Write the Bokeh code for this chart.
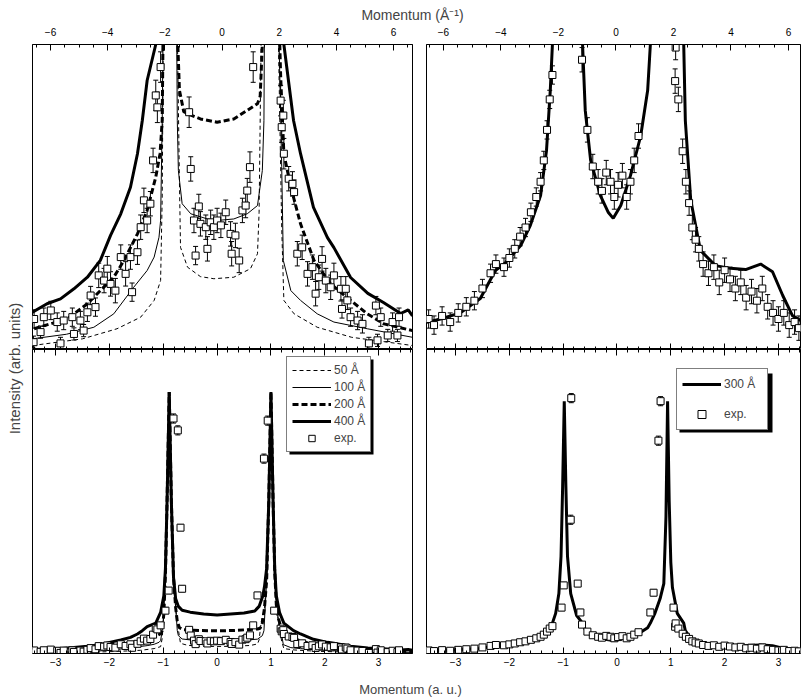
import numpy as np
from bokeh.plotting import figure
from bokeh.models import (Range1d, LinearAxis, SingleIntervalTicker, FixedTicker, Label,
                          Legend, LegendItem, BoxAnnotation)
from bokeh.layouts import row, column
from bokeh.embed import file_html
from bokeh.resources import INLINE

FONT = "Liberation Sans"

# ---------------- data (x in a.u., intensity in arb. units) ----------------
# left panels: calculated curves for several domain sizes
c50_x = [-3.43, -2.5, -1.86, -1.42, -1.17, -1.05, -1.02, -0.99, -0.96, -0.93, -0.89, -0.85, -0.81,
         -0.77, -0.74, -0.70, -0.68, -0.55, -0.31, -0.06, 0.31, 0.62, 0.75, 0.78, 0.82, 0.88,
         0.92, 0.96, 1.00, 1.04, 1.07, 1.10, 1.14, 1.20, 1.24, 1.43, 1.86, 2.5, 3.63]
c50_y = [0.013, 0.035, 0.068, 0.106, 0.161, 0.226, 0.5, 1.3, 2.6, 5.0, 8.6, 5.0, 2.5,
         1.5, 1.05, 0.55, 0.335, 0.27, 0.239, 0.232, 0.237, 0.265, 0.314, 0.45, 1.05, 1.5,
         2.4, 5.0, 8.6, 5.0, 2.7, 1.6, 1.0, 0.4, 0.161, 0.117, 0.073, 0.04, 0.013]

c100_x = [-3.43, -2.80, -2.29, -1.92, -1.55, -1.30, -1.17, -1.08, -1.05, -1.02, -0.99, -0.96, -0.93,
          -0.89, -0.85, -0.81, -0.77, -0.74, -0.72, -0.65, -0.49, -0.18, 0.0, 0.31, 0.56, 0.75,
          0.84, 0.87, 0.92, 0.96, 1.00, 1.04, 1.07, 1.10, 1.14, 1.20, 1.23, 1.37, 1.55, 1.86,
          2.17, 2.79, 3.63]
c100_y = [0.035, 0.05, 0.073, 0.117, 0.204, 0.259, 0.303, 0.368, 0.423, 0.75, 1.3, 2.6, 5.0,
          8.6, 5.0, 2.5, 1.5, 0.751, 0.587, 0.478, 0.445, 0.428, 0.423, 0.428, 0.445, 0.472,
          0.587, 0.751, 2.4, 5.0, 8.6, 5.0, 2.7, 1.6, 1.1, 0.6, 0.292, 0.193, 0.161, 0.117,
          0.090, 0.068, 0.04]

c200_x = [-3.40, -2.78, -2.41, -2.17, -1.92, -1.73, -1.48, -1.30, -1.14, -1.06, -1.02, -0.99, -0.96,
          -0.93, -0.89, -0.85, -0.81, -0.77, -0.74, -0.70, -0.62, -0.55, -0.31, 0.0, 0.31, 0.56,
          0.75, 0.80, 0.84, 0.88, 0.92, 0.96, 1.00, 1.04, 1.07, 1.10, 1.14, 1.18, 1.24, 1.37,
          1.55, 1.80, 2.11, 2.48, 2.79, 3.10, 3.63]
c200_y = [0.068, 0.101, 0.150, 0.193, 0.237, 0.292, 0.379, 0.456, 0.565, 0.642, 0.751, 1.3, 2.6,
          5.0, 8.6, 5.0, 2.5, 1.5, 1.05, 0.85, 0.78, 0.773, 0.756, 0.745, 0.756, 0.784,
          0.806, 0.83, 1.0, 1.5, 2.4, 5.0, 8.6, 5.0, 2.7, 1.6, 1.15, 0.9, 0.642, 0.532,
          0.412, 0.292, 0.215, 0.161, 0.117, 0.084, 0.062]

c400_x = [-3.43, -3.16, -2.91, -2.66, -2.41, -2.17, -1.98, -1.79, -1.61, -1.48, -1.39, -1.30, -1.14,
          -1.05, -0.99, -0.96, -0.93, -0.89, -0.85, -0.81, -0.77, -0.72, -0.65, -0.50, -0.25, 0.0,
          0.25, 0.50, 0.70, 0.78, 0.85, 0.88, 0.92, 0.96, 1.00, 1.04, 1.07, 1.10, 1.16, 1.24,
          1.42, 1.55, 1.79, 2.05, 2.17, 2.48, 2.80, 3.09, 3.41, 3.55, 3.63]
c400_y = [0.122, 0.150, 0.166, 0.199, 0.237, 0.292, 0.374, 0.445, 0.532, 0.642, 0.751, 0.882, 1.00,
          1.35, 1.9, 2.8, 5.0, 8.6, 5.0, 2.5, 1.8, 1.55, 1.42, 1.36, 1.30, 1.27,
          1.30, 1.33, 1.40, 1.55, 1.9, 2.2, 2.8, 5.0, 8.6, 5.0, 2.8, 1.9, 1.35, 1.00,
          0.751, 0.642, 0.466, 0.367, 0.334, 0.236, 0.184, 0.154, 0.118, 0.13, 0.11]

# left panels: experiment
expL_x = [-3.41, -3.40, -3.28, -3.22, -3.09, -2.97, -2.91, -2.85, -2.69, -2.66, -2.54, -2.48, -2.41,
          -2.35, -2.26, -2.20, -2.10, -2.04, -1.98, -1.89, -1.79, -1.70, -1.61, -1.58, -1.48, -1.42,
          -1.36, -1.30, -1.24, -1.19, -1.14, -1.11, -1.05, -0.96, -0.90, -0.81, -0.73, -0.68, -0.65,
          -0.52, -0.49, -0.43, -0.40, -0.34, -0.31, -0.21, -0.18, -0.12, -0.06, 0.0, 0.07, 0.16,
          0.25, 0.27, 0.34, 0.41, 0.47, 0.53, 0.56, 0.61, 0.67, 0.75, 0.87, 0.94, 1.06,
          1.18, 1.20, 1.23, 1.24, 1.33, 1.40, 1.43, 1.49, 1.58, 1.68, 1.77, 1.83, 1.89, 1.95,
          2.02, 2.11, 2.17, 2.30, 2.32, 2.39, 2.42, 2.48, 2.61, 2.70, 2.82, 2.95, 2.98, 3.04,
          3.17, 3.26, 3.35, 3.38]
expL_y = [0.024, 0.10, 0.057, 0.106, 0.128, 0.09, 0.02, 0.095, 0.106, 0.051, 0.095, 0.062, 0.122,
          0.177, 0.139, 0.243, 0.226, 0.265, 0.215, 0.193, 0.303, 0.248, 0.303, 0.188, 0.319, 0.401,
          0.489, 0.423, 0.478, 0.62, 0.833, 0.794, 0.926, 1.41, 2.07, 7.73, 7.34, 4.14, 2.13,
          0.778, 0.592, 0.423, 0.308, 0.469, 0.412, 0.401, 0.33, 0.417, 0.401, 0.423, 0.407, 0.45,
          0.379, 0.314, 0.374, 0.292, 0.456, 0.472, 0.521, 0.598, 0.926, 1.91, 6.41, 7.66, 1.41,
          0.816, 0.729, 0.767, 0.642, 0.56, 0.543, 0.516, 0.314, 0.335, 0.248, 0.27, 0.183, 0.237, 0.297,
          0.226, 0.204, 0.243, 0.199, 0.133, 0.199, 0.161, 0.106, 0.095, 0.084, 0.02, 0.144, 0.03, 0.106,
          0.046, 0.09, 0.046, 0.106]
expL_e = [0.02, 0.03, 0.02, 0.03, 0.03, 0.03, 0.02, 0.03, 0.03, 0.02, 0.03, 0.02, 0.03,
          0.03, 0.03, 0.04, 0.04, 0.04, 0.04, 0.04, 0.04, 0.04, 0.04, 0.03, 0.04, 0.04,
          0.04, 0.04, 0.04, 0.04, 0.05, 0.05, 0.05, 0.1, 0.1, 0.15, 0.15, 0.1, 0.1,
          0.05, 0.04, 0.04, 0.03, 0.04, 0.04, 0.04, 0.04, 0.04, 0.04, 0.04, 0.04, 0.04,
          0.04, 0.04, 0.04, 0.04, 0.04, 0.04, 0.04, 0.05, 0.05, 0.1, 0.15, 0.15, 0.1,
          0.05, 0.05, 0.05, 0.05, 0.04, 0.04, 0.04, 0.04, 0.04, 0.04, 0.04, 0.04, 0.04, 0.04,
          0.04, 0.04, 0.04, 0.04, 0.03, 0.04, 0.03, 0.03, 0.03, 0.03, 0.02, 0.03, 0.02, 0.03,
          0.02, 0.03, 0.02, 0.03]

# right panels: 300 A calculation and experiment
c300_x = [-3.54, -3.28, -2.91, -2.54, -2.26, -2.07, -1.79, -1.61, -1.42, -1.31, -1.24, -1.20, -1.14,
          -1.08, -1.04, -1.01, -0.98, -0.95, -0.92, -0.86, -0.75, -0.64, -0.59, -0.49, -0.31, -0.16,
          -0.07, 0.07, 0.25, 0.44, 0.57, 0.62, 0.70, 0.80, 0.87, 0.91, 0.94, 0.97, 1.00, 1.03,
          1.12, 1.24, 1.27, 1.37, 1.55, 1.83, 2.11, 2.39, 2.67, 2.89, 3.08, 3.26, 3.41]
c300_y = [0.089, 0.10, 0.12, 0.167, 0.259, 0.285, 0.341, 0.407, 0.505, 0.652, 0.849, 1.0, 1.32,
          1.97, 3.2, 5.5, 8.3, 5.5, 3.2, 1.97, 1.25, 1.0, 0.784, 0.62, 0.505, 0.449,
          0.43, 0.472, 0.57, 0.70, 0.85, 1.0, 1.3, 1.8, 2.3, 4.5, 8.3, 5.0, 3.0, 2.17,
          1.32, 1.0, 0.75, 0.49, 0.325, 0.275, 0.266, 0.262, 0.28, 0.255, 0.177, 0.111, 0.095]

expR_x = [-3.50, -3.40, -3.25, -3.10, -2.95, -2.80, -2.65, -2.50, -2.35, -2.25, -2.10, -2.00, -1.90,
          -1.80, -1.70, -1.60, -1.50, -1.42, -1.36, -1.30, -1.25, -1.20, -1.03, -0.99, -0.86, -0.85,
          -0.73, -0.68,
          -0.65, -0.55, -0.45, -0.35, -0.28, -0.20, -0.12, -0.05, 0.02, 0.10, 0.18, 0.25, 0.32,
          0.40, 0.62, 0.68, 0.77, 0.81, 1.05, 1.08, 1.09, 1.14, 1.22, 1.28, 1.34, 1.40, 1.46, 1.52,
          1.60, 1.70, 1.80, 1.90, 2.00, 2.10, 2.20, 2.30, 2.40, 2.50, 2.60, 2.70, 2.80, 2.90, 3.00,
          3.10, 3.20, 3.30, 3.38]
expR_y = [0.10, 0.08, 0.11, 0.09, 0.12, 0.14, 0.16, 0.20, 0.25, 0.28, 0.27, 0.30, 0.33,
          0.37, 0.40, 0.45, 0.50, 0.55, 0.62, 0.72, 0.82, 0.90, 1.51, 2.24, 4.4, 8.4,
          2.3, 1.35,
          0.95, 0.72, 0.60, 0.55, 0.52, 0.58, 0.55, 0.50, 0.54, 0.57, 0.50, 0.55, 0.62,
          0.70, 1.35, 2.0, 7.0, 8.3, 1.51, 0.88, 0.99, 0.82, 0.65, 0.55, 0.48, 0.40, 0.36, 0.33,
          0.28, 0.25, 0.27, 0.22, 0.26, 0.23, 0.20, 0.22, 0.17, 0.19, 0.16, 0.20, 0.14, 0.12, 0.10,
          0.12, 0.08, 0.09, 0.07]
expR_e = ([0.03] * 22 + [0.1, 0.1, 0.15, 0.15, 0.1, 0.1] + [0.04] * 14
          + [0.1, 0.1, 0.15, 0.15, 0.1] + [0.04] * 28)

# axis ranges (a.u. and A^-1 at the frame edges)
left_au = (-3.43, 3.63)
left_q = (-6.63, 6.66)
right_au = (-3.54, 3.41)
right_q = (-6.59, 6.42)
top_int = (0.0, 1.0)
bottom_int = (0.0, 10.0)


def base_fig(w, h, xr, yr, bl, br, bt, bb):
    p = figure(width=w, height=h, x_range=Range1d(*xr), y_range=Range1d(*yr),
               x_axis_location=None, y_axis_location=None, toolbar_location=None,
               output_backend="svg", min_border_left=bl, min_border_right=br,
               min_border_top=bt, min_border_bottom=bb)
    p.grid.visible = False
    p.outline_line_color = "black"
    p.outline_line_width = 1
    p.background_fill_color = "white"
    p.border_fill_color = "white"
    return p


def label_axis(p, where, interval, nminor, range_name=None, standoff=4):
    kw = {}
    if range_name:
        kw["x_range_name"] = range_name
    ax = LinearAxis(ticker=SingleIntervalTicker(interval=interval, num_minor_ticks=nminor), **kw)
    ax.major_tick_in = 6
    ax.major_tick_out = 0
    ax.minor_tick_in = 3
    ax.minor_tick_out = 0
    ax.axis_line_color = "black"
    ax.major_label_text_font = FONT
    ax.major_label_text_font_size = "10px"
    ax.major_label_text_color = "black"
    ax.major_label_standoff = standoff
    p.add_layout(ax, where)


def bare_axis(p, where, xr):
    # unlabelled tick rows on the shared boundary between panels
    lo, hi = xr
    majors = [float(v) for v in range(int(np.ceil(lo)), int(np.floor(hi)) + 1)]
    minors = [round(v, 1) for v in np.arange(np.ceil(lo * 5) / 5, hi, 0.2)]
    for ticks, length in ((majors, 6), (minors, 3)):
        ax = LinearAxis(ticker=FixedTicker(ticks=[], minor_ticks=ticks))
        ax.major_tick_in = 0
        ax.major_tick_out = 0
        ax.minor_tick_in = length
        ax.minor_tick_out = 0
        ax.major_label_standoff = 0
        ax.axis_line_color = "black"
        p.add_layout(ax, where)


def draw_curves_left(p):
    r50 = p.line(c50_x, c50_y, line_color="black", line_width=1, line_dash="4 3")
    r100 = p.line(c100_x, c100_y, line_color="black", line_width=1)
    r200 = p.line(c200_x, c200_y, line_color="black", line_width=3, line_dash="6 3")
    r400 = p.line(c400_x, c400_y, line_color="black", line_width=3)
    return r50, r100, r200, r400


def draw_exp(p, xs, ys, es):
    lo = [y - e for y, e in zip(ys, es)]
    hi = [y + e for y, e in zip(ys, es)]
    p.segment(x0=xs, y0=lo, x1=xs, y1=hi, line_color="black", line_width=1)
    p.scatter(xs, lo, marker="dash", size=5, line_color="black", line_width=1)
    p.scatter(xs, hi, marker="dash", size=5, line_color="black", line_width=1)
    return p.scatter(xs, ys, marker="square", size=7, fill_color="white",
                     line_color="black", line_width=1)


def style_legend(lg, gh, lh, sp, lw):
    lg.label_text_font = FONT
    lg.label_text_font_size = "12px"
    lg.glyph_width = 39
    lg.glyph_height = gh
    lg.label_height = lh
    lg.label_width = lw
    lg.spacing = sp
    lg.padding = 5
    lg.margin = 0
    lg.label_standoff = 3
    lg.border_line_color = "black"
    lg.border_line_width = 1
    lg.background_fill_alpha = 1.0


def shadow(p, left, bottom, w, h):
    # drop shadow behind a legend box (frame-relative screen units)
    p.add_layout(BoxAnnotation(left=left + 3, right=left + w + 2, bottom=bottom - 2,
                               top=bottom + h - 3, left_units="screen", right_units="screen",
                               top_units="screen", bottom_units="screen",
                               fill_color="black", fill_alpha=1.0, line_color=None))


# ---------------- panels ----------------
TOP_H, BOT_H = 326, 328
L_W, R_W = 395, 382

tl = base_fig(L_W, TOP_H, left_au, top_int, 8, 7, 21, 0)
tl.extra_x_ranges = {"q": Range1d(*left_q)}
label_axis(tl, "above", 2, 4, "q", standoff=9)
bare_axis(tl, "below", left_au)
draw_curves_left(tl)
draw_exp(tl, expL_x, expL_y, expL_e)

tr = base_fig(R_W, TOP_H, right_au, top_int, 7, 1, 21, 0)
tr.extra_x_ranges = {"q": Range1d(*right_q)}
label_axis(tr, "above", 2, 4, "q", standoff=9)
bare_axis(tr, "below", right_au)
tr.line(c300_x, c300_y, line_color="black", line_width=3)
draw_exp(tr, expR_x, expR_y, expR_e)

bl = base_fig(L_W, BOT_H, left_au, bottom_int, 8, 7, 0, 24)
bare_axis(bl, "above", left_au)
label_axis(bl, "below", 1, 5, standoff=4)
r50, r100, r200, r400 = draw_curves_left(bl)
rexp = draw_exp(bl, expL_x, expL_y, expL_e)
shadow(bl, 254, 201, 85, 96)
leg = Legend(items=[LegendItem(label="50 Å", renderers=[r50]),
                    LegendItem(label="100 Å", renderers=[r100]),
                    LegendItem(label="200 Å", renderers=[r200]),
                    LegendItem(label="400 Å", renderers=[r400]),
                    LegendItem(label="exp.", renderers=[rexp])],
             location=(254, 201))
style_legend(leg, 16, 16, 1, 20)
bl.add_layout(leg)

br = base_fig(R_W, BOT_H, right_au, bottom_int, 7, 1, 0, 24)
bare_axis(br, "above", right_au)
label_axis(br, "below", 1, 5, standoff=4)
r300 = br.line(c300_x, c300_y, line_color="black", line_width=3)
rexp2 = draw_exp(br, expR_x, expR_y, expR_e)
shadow(br, 250, 223, 94, 60)
leg2 = Legend(items=[LegendItem(label="300 Å", renderers=[r300]),
                     LegendItem(label="exp.", renderers=[rexp2])],
              location=(250, 223))
style_legend(leg2, 20, 20, 10, 38)
br.add_layout(leg2)


# ---------------- text strips ----------------
def strip(w, h):
    s = figure(width=w, height=h, x_range=Range1d(0, 1), y_range=Range1d(0, 1),
               x_axis_location=None, y_axis_location=None, toolbar_location=None,
               output_backend="svg", min_border=0)
    s.grid.visible = False
    s.outline_line_color = None
    return s


top_strip = strip(L_W + R_W, 23)
top_strip.add_layout(Label(x=388, y=9, x_units="screen", y_units="screen",
                           text="Momentum (Å⁻¹)", text_font=FONT, text_font_size="14px",
                           text_align="center", text_baseline="middle"))
bot_strip = strip(L_W + R_W, 21)
bot_strip.add_layout(Label(x=386, y=9, x_units="screen", y_units="screen",
                           text="Momentum (a. u.)", text_font=FONT, text_font_size="13px",
                           text_align="center", text_baseline="middle"))
left_strip = strip(24, 698)
left_strip.add_layout(Label(x=14, y=330, x_units="screen", y_units="screen",
                            text="Intensity (arb. units)", text_font=FONT, text_font_size="15px",
                            text_align="center", text_baseline="middle", angle=np.pi / 2))

layout = row(left_strip, column(top_strip, row(tl, tr), row(bl, br), bot_strip))

open("out.html", "w").write(file_html(layout, INLINE))
